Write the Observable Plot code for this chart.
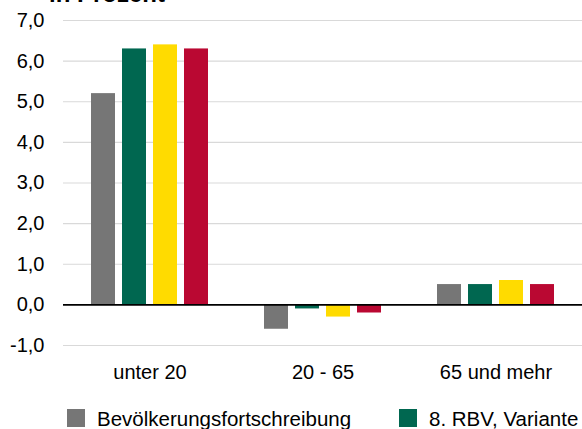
<!DOCTYPE html>
<html><head><meta charset="utf-8">
<script src="https://cdn.jsdelivr.net/npm/d3@7"></script>
<script src="https://cdn.jsdelivr.net/npm/@observablehq/plot@0.6"></script>
<style>
body{margin:0;background:#fff;width:582px;height:429px;overflow:hidden;font-family:"Liberation Sans",Arial,sans-serif;}
#chart svg{display:block;}
#legend{display:flex;white-space:nowrap;padding-left:67px;padding-top:12px;font-size:20.5px;color:#000;line-height:normal;}
.item{display:flex;align-items:flex-start;width:332px;flex-shrink:0}
.sw{width:18px;height:18px;margin-right:12px;margin-top:2px;flex-shrink:0}
</style></head><body><div id="chart"></div><div id="legend"></div>
<script>
const groups = ["unter 20", "20 - 65", "65 und mehr"];
const seriesNames = ["Bevölkerungsfortschreibung", "8. RBV, Variante 1", "8. RBV, Variante 2", "8. RBV, Variante 3"];
const colors = ["#767676", "#006750", "#FFDB00", "#BA0832"];
const fortschreibung = [5.2, -0.6, 0.5];
const variante1 = [6.3, -0.1, 0.5];
const variante2 = [6.4, -0.3, 0.6];
const variante3 = [6.3, -0.2, 0.5];
const yTicks = [-1, 0, 1, 2, 3, 4, 5, 6, 7];
const title = "in Prozent";

const seriesValues = [fortschreibung, variante1, variante2, variante3];
const data = [];
groups.forEach((g, gi) => seriesNames.forEach((s, si) => data.push({group: g, series: s, value: seriesValues[si][gi]})));

const fmt = d => d.toFixed(1).replace(".", ",");

const plot = Plot.plot({
  width: 582,
  height: 395,
  marginTop: 20,
  marginBottom: 50,
  marginLeft: 63,
  marginRight: 0,
  style: {fontFamily: "'Liberation Sans', Arial, sans-serif", fontSize: "20px", color: "#000", background: "#fff"},
  fx: {domain: groups, padding: 0, label: null},
  x: {domain: seriesNames, paddingInner: 0.24, paddingOuter: 0.885, axis: null},
  y: {domain: [-1, 7], label: null},
  color: {domain: seriesNames, range: colors},
  marks: [
    Plot.ruleY(yTicks.filter(d => d !== 0), {stroke: "#d9d9d9", strokeWidth: 1.2}),
    Plot.axisY({ticks: yTicks, tickFormat: fmt, tickSize: 0, tickPadding: 19, label: null, fontSize: 20}),
    Plot.axisFx({anchor: "bottom", tickSize: 0, tickPadding: 19, label: null, fontSize: 20}),
    Plot.barY(data, {fx: "group", x: "series", y: "value", fill: "series"}),
    Plot.ruleY([0], {stroke: "#000", strokeWidth: 1.6})
  ]
});
d3.select(plot).append("text")
  .attr("x", 107).attr("y", 1.8)
  .attr("font-size", 24).attr("font-weight", "bold")
  .attr("fill", "#000")
  .text(title);
document.getElementById("chart").appendChild(plot);

const legend = d3.select("#legend");
seriesNames.forEach((s, i) => {
  const it = legend.append("div").attr("class", "item");
  it.append("div").attr("class", "sw").style("background", colors[i]);
  it.append("span").text(s);
});
</script></body></html>
